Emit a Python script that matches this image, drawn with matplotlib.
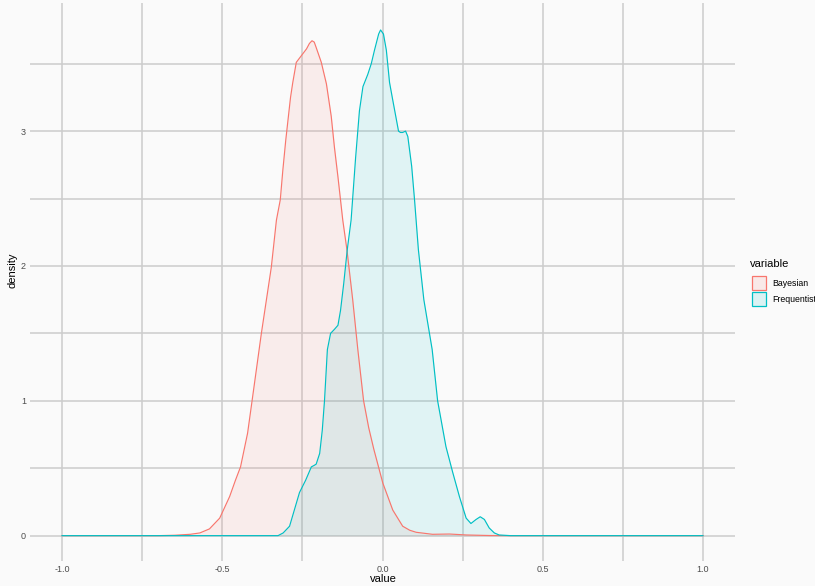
import numpy as np
import matplotlib.pyplot as plt
from matplotlib.patches import Rectangle

plt.rcParams['font.family'] = ['Liberation Sans', 'DejaVu Sans']

# density curves
bayes_x = [-1.0, -0.70, -0.648, -0.60, -0.570, -0.54, -0.508, -0.477, -0.459, -0.443,
           -0.421, -0.407, -0.378, -0.347, -0.331, -0.319, -0.311, -0.302, -0.295,
           -0.287, -0.280, -0.269, -0.253, -0.237, -0.228, -0.220, -0.213, -0.207,
           -0.191, -0.175, -0.160, -0.150, -0.139, -0.124, -0.111, -0.093, -0.077,
           -0.059, -0.043, -0.027, 0.001, 0.032, 0.063, 0.085, 0.105, 0.156, 0.209,
           0.262, 0.333, 0.40, 1.0]
bayes_y = [0.0, 0.0, 0.003, 0.01, 0.02, 0.05, 0.13, 0.29, 0.41, 0.51,
           0.76, 1.0, 1.5, 1.99, 2.34, 2.49, 2.71, 2.93, 3.08,
           3.25, 3.36, 3.51, 3.56, 3.61, 3.65, 3.67, 3.66, 3.62,
           3.51, 3.35, 3.11, 2.88, 2.66, 2.34, 2.12, 1.75, 1.38,
           1.0, 0.8, 0.64, 0.39, 0.19, 0.07, 0.04, 0.025, 0.01, 0.012,
           0.005, 0.001, 0.0, 0.0]

freq_x = [-1.0, -0.34, -0.326, -0.310, -0.290, -0.259, -0.240, -0.222, -0.214, -0.207,
          -0.196, -0.188, -0.181, -0.172, -0.162, -0.150, -0.139, -0.131, -0.121,
          -0.110, -0.098, -0.084, -0.072, -0.061, -0.046, -0.035, -0.025, -0.012,
          -0.006, 0.003, 0.012, 0.022, 0.032, 0.050, 0.056, 0.063, 0.072, 0.079,
          0.091, 0.100, 0.112, 0.129, 0.155, 0.172, 0.198, 0.219, 0.240, 0.261,
          0.276, 0.292, 0.305, 0.318, 0.333, 0.349, 0.364, 0.40, 1.0]
freq_y = [0.0, 0.0, 0.0, 0.02, 0.07, 0.32, 0.41, 0.51, 0.52, 0.53,
          0.61, 0.78, 1.0, 1.38, 1.5, 1.53, 1.56, 1.67, 1.87,
          2.12, 2.34, 2.8, 3.15, 3.33, 3.42, 3.5, 3.6, 3.72,
          3.75, 3.72, 3.6, 3.36, 3.23, 3.0, 2.99, 2.99, 3.0, 2.96,
          2.74, 2.49, 2.12, 1.75, 1.38, 1.0, 0.66, 0.47, 0.29, 0.13,
          0.09, 0.12, 0.14, 0.12, 0.057, 0.02, 0.005, 0.0, 0.0]

series = ['Bayesian', 'Frequentist']
colors = ['#F8766D', '#00BFC4']
x_ticks = [-1.0, -0.5, 0.0, 0.5, 1.0]
y_ticks = [0, 1, 2, 3]

bg = '#FAFAFA'
fig = plt.figure(figsize=(8.15, 5.86), dpi=100, facecolor=bg)
ax = fig.add_axes([30 / 815, 1 - 561 / 586, 705 / 815, 558 / 586])
ax.set_facecolor(bg)

# grid
for v in np.arange(-1.0, 1.01, 0.25):
    ax.axvline(v, color='#CCCCCC', lw=1.1, zorder=0)
for v in np.arange(0, 3.6, 0.5):
    ax.axhline(v, color='#CCCCCC', lw=1.1, zorder=0)

for name, xs, ys, c in zip(series, [bayes_x, freq_x], [bayes_y, freq_y], colors):
    ax.fill_between(xs, ys, color=c, alpha=0.1, lw=0, zorder=1)
    ax.plot(xs, ys, color=c, lw=0.85, zorder=2)

ax.set_xlim(-1.1, 1.1)
ax.set_ylim(-0.188, 3.95)
ax.set_xticks(x_ticks)
ax.set_xticklabels([f'{t:.1f}' for t in x_ticks])
ax.set_yticks(y_ticks)
ax.tick_params(length=0, labelsize=6.5, colors='#4D4D4D', pad=3)
for s in ax.spines.values():
    s.set_visible(False)

# axis titles
fig.text(383 / 815, 1 - 579 / 586, 'value', fontsize=8, ha='center', va='center')
fig.text(12 / 815, 1 - 270 / 586, 'density', fontsize=8, ha='center', va='center',
         rotation=90)

# legend
fig.text(750 / 815, 1 - 264 / 586, 'variable', fontsize=8, va='center', ha='left')
for i, (name, c) in enumerate(zip(series, colors)):
    y0 = 276 + i * 16
    fig.patches.append(Rectangle((752 / 815, 1 - (y0 + 14) / 586), 14 / 815, 14 / 586,
                                 transform=fig.transFigure, facecolor=c, alpha=0.12,
                                 edgecolor='none'))
    fig.patches.append(Rectangle((752 / 815, 1 - (y0 + 14) / 586), 14 / 815, 14 / 586,
                                 transform=fig.transFigure, facecolor='none',
                                 edgecolor=c, lw=0.9))
    fig.text(772 / 815, 1 - (y0 + 7) / 586, name, fontsize=6.3, va='center', ha='left')

plt.savefig('out.png', dpi=100, facecolor=bg)
